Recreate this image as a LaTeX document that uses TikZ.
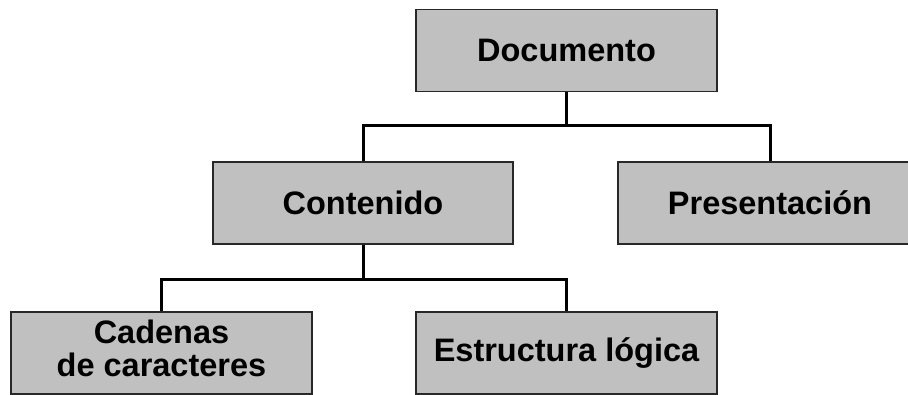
\documentclass[tikz,border=0pt]{standalone}
\usepackage{fontspec}
\setmainfont{Liberation Sans}
\definecolor{boxgray}{RGB}{192,192,192}
\definecolor{edgegray}{RGB}{40,40,40}
\begin{document}
\begin{tikzpicture}[x=1pt,y=-1pt,
  box/.style={draw=edgegray, line width=1.6pt, fill=boxgray, minimum width=301pt,
    minimum height=82pt, inner sep=0pt, align=center, text=black,
    font=\fontsize{32.5}{32}\selectfont\bfseries},
  conn/.style={line width=3pt, black}]
\path[use as bounding box] (0,0) rectangle (908,394);
\clip (0,0) rectangle (908,394);
\node[box] (doc) at (566.5,50.5) {Documento};
\node[box, minimum width=300pt] (cont) at (363,203) {Contenido};
\node[box, minimum width=304pt] (pres) at (770,203) {Presentación};
\node[box] (cad) at (161.5,353) {\raisebox{2.5pt}{\begin{tabular}{@{}c@{}}Cadenas\\[-0.5pt]de caracteres\end{tabular}}};
\node[box] (est) at (566.5,353) {Estructura lógica};
\draw[conn] (doc.south) -- ++(0,33) -| (cont.north);
\draw[conn] (doc.south) -- ++(0,33) -| (pres.north);
\draw[conn] (cont.south) -- ++(0,35) -| (cad.north);
\draw[conn] (cont.south) -- ++(0,35) -| (est.north);
\end{tikzpicture}
\end{document}
